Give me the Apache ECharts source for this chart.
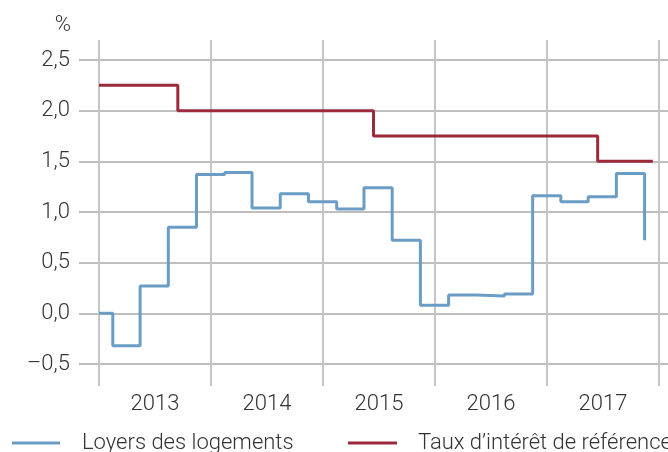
<!DOCTYPE html>
<html>
<head>
<meta charset="utf-8">
<script src="https://cdn.jsdelivr.net/npm/echarts@6/dist/echarts.min.js"></script>
<style>
html,body{margin:0;padding:0;background:#fff;}
#chart{width:668px;height:452px;}
</style>
</head>
<body>
<div id="chart"></div>
<script>
// Data
const years = ['2013', '2014', '2015', '2016', '2017'];
const yTicks = [-0.5, 0, 0.5, 1.0, 1.5, 2.0, 2.5];

const rentName = 'Loyers des logements';
const rentDates = ['2013-01-01','2013-02-15','2013-05-15','2013-08-15','2013-11-15',
  '2014-02-15','2014-05-15','2014-08-15','2014-11-15',
  '2015-02-15','2015-05-15','2015-08-15','2015-11-15',
  '2016-02-15','2016-05-15','2016-08-15','2016-11-15',
  '2017-02-15','2017-05-15','2017-08-15','2017-11-15'];
const rentValues = [0.00, -0.32, 0.27, 0.85, 1.37,
  1.39, 1.04, 1.18, 1.10,
  1.03, 1.24, 0.72, 0.08,
  0.18, 0.17, 0.19, 1.16,
  1.10, 1.15, 1.38, 0.72];

const rateName = 'Taux d\u2019intérêt de référence';
const rateDates = ['2013-01-01', '2013-09-15', '2015-06-15', '2017-06-15', '2017-12-12'];
const rateValues = [2.25, 2.00, 1.75, 1.50, 1.50];

const BLUE = '#6a9dc6';
const RED = '#9d2a3b';
const TEXT = '#333333';
const FONT = 'Roboto';
const FS = 22;

const fmt = v => (v < 0 ? '\u2013' : '') + Math.abs(v).toFixed(1).replace('.', ',');

const chart = echarts.init(document.getElementById('chart'), null, {renderer: 'canvas'});
chart.setOption({
  animation: false,
  backgroundColor: '#ffffff',
  textStyle: {fontFamily: FONT, fontWeight: 300, color: TEXT},
  grid: [
    {left: 79, right: 0, top: 60, height: 304},
    {left: 99, width: 560, top: 40, height: 346}
  ],
  legend: [
    {
      left: 12, top: 432, padding: 0,
      itemWidth: 48, itemHeight: 3, icon: 'rect',
      data: [{name: rentName, itemStyle: {color: BLUE}}],
      textStyle: {fontFamily: FONT, fontWeight: 300, fontSize: FS, color: TEXT, padding: [0, 0, 0, 17]}
    },
    {
      left: 348, top: 432, padding: 0,
      itemWidth: 49, itemHeight: 3, icon: 'rect',
      data: [{name: rateName, itemStyle: {color: RED}}],
      textStyle: {fontFamily: FONT, fontWeight: 300, fontSize: FS, color: TEXT, padding: [0, 0, 0, 16]}
    }
  ],
  xAxis: [
    {gridIndex: 0, type: 'value', min: 0, max: 1, show: false},
    {
      gridIndex: 1, type: 'category', data: years, boundaryGap: true,
      axisLine: {show: false}, axisTick: {show: false},
      axisLabel: {margin: 7, fontSize: FS, fontFamily: FONT, fontWeight: 300, color: TEXT},
      splitLine: {show: true, interval: 0, lineStyle: {color: '#c6c6c6', width: 2}}
    },
    {gridIndex: 1, type: 'time', min: '2013-01-01', max: '2018-01-01', show: false}
  ],
  yAxis: [
    {
      gridIndex: 0, type: 'value', min: yTicks[0], max: yTicks[yTicks.length - 1], interval: 0.5,
      name: '%', nameLocation: 'end', nameGap: 24,
      nameTextStyle: {fontSize: FS, fontFamily: FONT, fontWeight: 300, color: TEXT, align: 'right', padding: [0, 8, 0, 0]},
      axisLine: {show: false}, axisTick: {show: false},
      axisLabel: {margin: 9, fontSize: FS, fontFamily: FONT, fontWeight: 300, color: TEXT, formatter: fmt},
      splitLine: {show: true, lineStyle: {color: '#a9a9a9', width: 1.5}}
    },
    {gridIndex: 1, type: 'value', min: -0.7171, max: 2.6974, show: false}
  ],
  series: [
    {
      name: rentName, type: 'line', xAxisIndex: 2, yAxisIndex: 1, step: 'end',
      showSymbol: false, symbol: 'none',
      data: rentDates.map((d, i) => [d, rentValues[i]]),
      lineStyle: {color: BLUE, width: 3}, itemStyle: {color: BLUE}, z: 3
    },
    {
      name: rateName, type: 'line', xAxisIndex: 2, yAxisIndex: 1, step: 'end',
      showSymbol: false, symbol: 'none',
      data: rateDates.map((d, i) => [d, rateValues[i]]),
      lineStyle: {color: RED, width: 3}, itemStyle: {color: RED}, z: 4
    }
  ]
});
</script>
</body>
</html>
